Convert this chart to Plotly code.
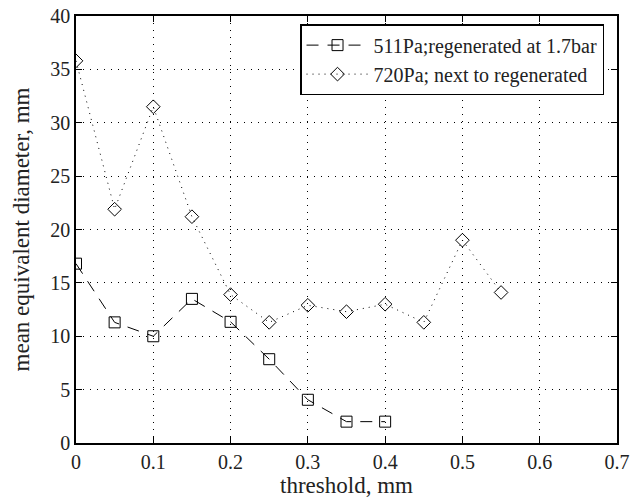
import plotly.graph_objects as go

threshold_a = [0, 0.05, 0.1, 0.15, 0.2, 0.25, 0.3, 0.35, 0.4]
diam_a = [16.8, 11.3, 10.0, 13.5, 11.35, 7.85, 4.05, 2.0, 2.0]
threshold_b = [0, 0.05, 0.1, 0.15, 0.2, 0.25, 0.3, 0.35, 0.4, 0.45, 0.5, 0.55]
diam_b = [35.8, 21.9, 31.5, 21.2, 13.9, 11.3, 12.9, 12.3, 13.0, 11.3, 19.0, 14.1]
name_a = "511Pa;regenerated at 1.7bar"
name_b = "720Pa; next to regenerated"
x_ticks = [0, 0.1, 0.2, 0.3, 0.4, 0.5, 0.6, 0.7]
x_labels = ["0", "0.1", "0.2", "0.3", "0.4", "0.5", "0.6", "0.7"]
y_ticks = [0, 5, 10, 15, 20, 25, 30, 35, 40]

font = "Liberation Serif"

fig = go.Figure()
fig.add_trace(go.Scatter(
    x=threshold_a, y=diam_a, name=name_a, mode="lines+markers",
    line=dict(color="black", width=1, dash="12px,9px"),
    marker=dict(symbol="square-open", size=11, color="black", line=dict(width=1)),
))
fig.add_trace(go.Scatter(
    x=threshold_b, y=diam_b, name=name_b, mode="lines+markers",
    line=dict(color="black", width=1, dash="1px,5px"),
    marker=dict(symbol="diamond-open", size=10.5, color="black", line=dict(width=1)),
))

axis_common = dict(
    showline=True, linecolor="black", linewidth=1.5, mirror="ticks",
    ticks="inside", ticklen=6, tickcolor="black", tickwidth=1,
    showgrid=True, gridcolor="black", gridwidth=1, griddash="1px,6px",
    zeroline=False, automargin=False,
    tickfont=dict(family=font, size=20, color="#222"),
)
fig.update_xaxes(range=[0, 0.7], tickvals=x_ticks, ticktext=x_labels,
                 title=dict(text="threshold, mm", font=dict(family=font, size=23, color="#222"), standoff=4),
                 **axis_common)
fig.update_yaxes(range=[0, 40], tickvals=y_ticks,
                 title=dict(text="mean equivalent diameter, mm", font=dict(family=font, size=23, color="#222"), standoff=14),
                 **axis_common)

fig.update_layout(
    width=630, height=500,
    margin=dict(l=76, r=13, t=16, b=57),
    paper_bgcolor="white", plot_bgcolor="white",
    font=dict(family=font, color="#222"),
    legend=dict(x=0.976, y=0.981, xanchor="right", yanchor="top",
                bordercolor="black", borderwidth=1.5, bgcolor="white",
                font=dict(family=font, size=20, color="#222"),
                itemwidth=62, tracegroupgap=0),
    showlegend=True,
)

fig.write_html("out.html", config={"displayModeBar": False},
               post_script="document.body.style.margin='0';document.body.style.overflow='hidden';")
